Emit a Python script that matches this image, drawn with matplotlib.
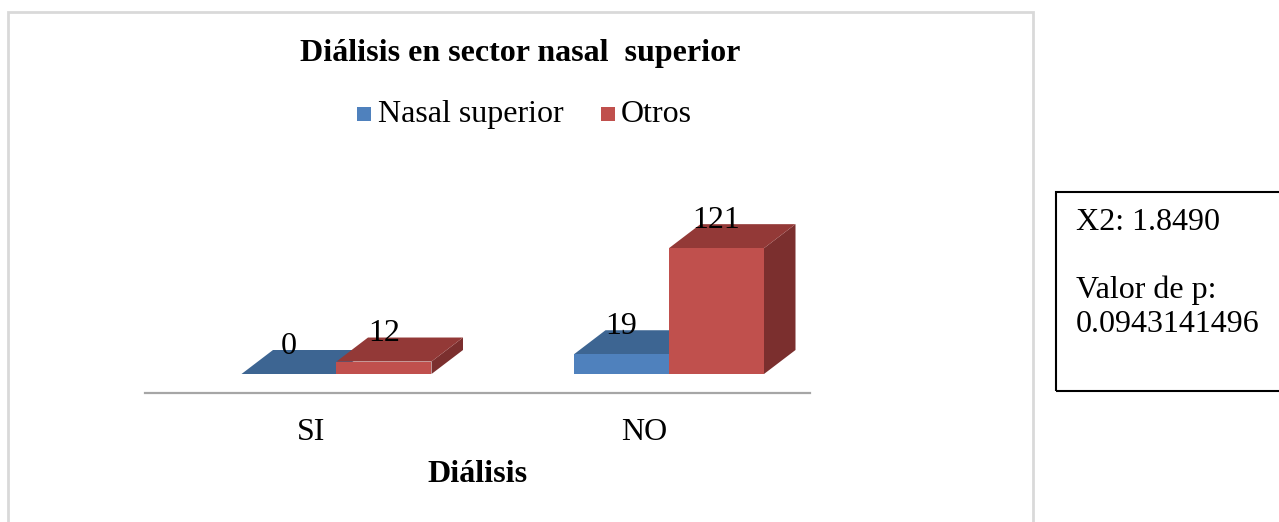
import matplotlib
matplotlib.use('Agg')
import matplotlib.pyplot as plt
from matplotlib.patches import Polygon, Rectangle

# datos
categorias = ['SI', 'NO']
series = ['Nasal superior', 'Otros']
nasal_superior = [0, 19]
otros = [12, 121]
valores = [nasal_superior, otros]
titulo = 'Diálisis en sector nasal  superior'
eje_x = 'Diálisis'
texto_caja = ['X2: 1.8490', '', 'Valor de p:', '0.0943141496']

col_frente = ['#4F81BD', '#C0504D']
col_arriba = ['#3D6592', '#933937']
col_lado = ['#2F4F75', '#7B2F2E']

W, H = 1279, 522
plt.rcParams['font.family'] = ['Liberation Serif', 'DejaVu Serif']
fig = plt.figure(figsize=(W / 100, H / 100), dpi=100)

# escala: pixeles por categoria / por unidad
px_cat, x0_px = 332.5, 336.5
px_uni, y0_px = 1.04, 374
ax = fig.add_axes([0, 0, 1, 1])
ax.set_xlim((0 - x0_px) / px_cat, (W - x0_px) / px_cat)
ax.set_ylim((y0_px - H) / px_uni, y0_px / px_uni)
ax.axis('off')

dx = 31.5 / px_cat   # profundidad 3D
dy = 24 / px_uni
bw = 95 / px_cat
off = 25 / px_cat    # desplazamiento del piso

# linea del piso
ax.plot([-0.5 - off, len(categorias) - 0.5 - off], [-19 / px_uni] * 2,
        color='#A6A6A6', lw=1.6, zorder=1)

for i, cat in enumerate(categorias):
    for j in range(len(series)):
        h = valores[j][i]
        l = i - bw + j * bw
        r = l + bw
        z = 2 + j
        ax.add_patch(Polygon([(r, 0), (r + dx, dy), (r + dx, h + dy), (r, h)],
                             closed=True, fc=col_lado[j], ec='none', zorder=z))
        ax.add_patch(Polygon([(l, h), (r, h), (r + dx, h + dy), (l + dx, h + dy)],
                             closed=True, fc=col_arriba[j], ec='none', zorder=z))
        ax.add_patch(Rectangle((l, 0), bw, h, fc=col_frente[j], ec='none', zorder=z))
        ax.text(l + bw / 2, h + dy + 4 / px_uni, str(h), ha='center', va='center',
                fontsize=23, zorder=10)
    ax.text(i - off, (y0_px - 432) / px_uni, cat, ha='center', va='center', fontsize=23)

def fx(px):
    return px / W

def fy(py):
    return 1 - py / H

# titulo y eje
fig.text(fx(520), fy(53), titulo, ha='center', va='center', fontsize=23, fontweight='bold')
fig.text(fx(477), fy(474), eje_x, ha='center', va='center', fontsize=23, fontweight='bold')

# leyenda
for j, (sx, tx) in enumerate([(357, 378), (601, 621)]):
    fig.add_artist(Rectangle((fx(sx), fy(121)), 14 / W, 14 / H, transform=fig.transFigure,
                             fc=col_frente[j], ec='none'))
    fig.text(fx(tx), fy(114), series[j], ha='left', va='center', fontsize=23)

# marco del grafico
fig.add_artist(Rectangle((fx(8), fy(530)), (1033 - 8) / W, (530 - 12) / H,
                         transform=fig.transFigure, fc='none', ec='#D9D9D9', lw=2))

# caja de texto
fig.add_artist(Rectangle((fx(1056), fy(391)), (1300 - 1056) / W, (391 - 192) / H,
                         transform=fig.transFigure, fc='none', ec='black', lw=1.5))
for k, (linea, py) in enumerate(zip(texto_caja, [222, 256, 290, 325])):
    fig.text(fx(1076), fy(py), linea, ha='left', va='center', fontsize=23)

fig.savefig('out.png', dpi=100)
